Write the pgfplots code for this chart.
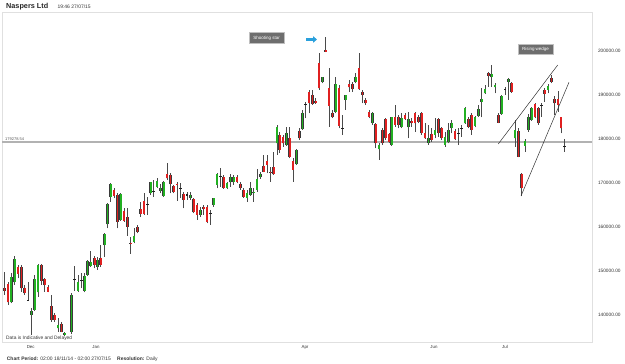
\documentclass[border=0pt]{standalone}
\usepackage{pgfplots}
\pgfplotsset{compat=1.18}
\usepackage{pgfplotstable}
\usepackage{fontspec}
\setmainfont{Liberation Sans}
\usetikzlibrary{arrows.meta}
\definecolor{cgreen}{HTML}{22B022}
\definecolor{cred}{HTML}{E02020}
\definecolor{cblack}{HTML}{202020}
\definecolor{wick}{HTML}{4A4A4A}
\definecolor{edge}{HTML}{3A3A3A}
\definecolor{framec}{HTML}{E0E0E0}
\definecolor{boxc}{HTML}{6E6E6E}
\definecolor{arrowc}{HTML}{2AA0DC}
\definecolor{labelc}{HTML}{333333}

\pgfplotstableread{
x o h l c t
4.7 146065 149697 144544 145452 2
8 147041 147563 142274 142887 2
11.3 142887 149470 142660 148698 1
14.7 147427 153465 146814 152716 1
18 150900 151354 148335 149379 2
21.3 150900 151354 145293 146065 2
24.7 146065 146814 144544 144930 2
28 143510 147427 143250 143310 3
31.3 140004 141525 135464 140912 1
34.7 141139 149084 140912 148176 1
38 145157 151513 144158 151354 1
41.3 151354 151513 146814 147722 2
44.7 148176 148335 145293 146814 2
48 146428 146814 145157 145293 2
51.3 142047 144544 138483 138869 2
54.7 140004 140390 138483 138869 2
58 136985 139255 136213 137734 1
61.3 137893 138483 136077 136213 2
64.7 135464 136213 135305 135850 1
71.3 136213 144930 135623 144544 1
74.7 147920 151127 145452 148110 3
78 145452 149084 145293 147563 1
81.3 147700 149470 146065 147880 3
84.7 145452 149470 145157 148925 1
87.3 149084 152489 148925 152262 1
90.7 151195 154532 150968 151967 1
94.7 153011 153465 150605 151354 2
97.3 150968 153238 150219 152489 1
100.7 152875 155894 150968 151354 2
104.7 155894 158550 153238 158323 1
107.3 160593 165360 159685 165133 1
110.7 166858 169900 165723 169741 1
114 168379 168765 166495 167017 2
117.3 167244 167630 159685 161183 2
120.7 161569 167630 161410 167471 1
124 163612 164225 161183 161410 2
127.3 162318 164225 157937 160048 2
130.7 156416 157642 153851 156121 2
134 156643 159685 156280 157937 1
137.3 159912 160434 158550 158913 2
140.7 163998 165723 162318 162931 2
144 165950 167766 162704 162931 2
147.3 165250 166858 162704 165150 3
150.7 167630 170263 167244 170127 1
153.7 168250 170649 166858 168050 3
157 169128 171035 168765 170422 1
160.3 168152 169673 167630 168901 1
163.7 167085 170422 166858 170127 1
167 171943 174440 170649 171035 2
170.3 171784 172170 167630 169673 2
173.7 169287 169514 167630 167857 2
177 169809 170127 165882 169514 2
180.3 168860 169900 166495 168670 3
183.7 167403 167993 164225 166109 2
187 167403 167993 166109 167085 3
190.3 166631 167993 166109 167244 1
193.7 166336 166495 163090 163317 2
197 164974 165360 161569 162704 2
200.3 162704 164588 162318 163839 1
203.7 164406 164974 162704 164066 2
207 164588 164974 160820 161183 2
210.3 163090 163839 160434 162863 3
213.7 164974 166631 164588 166495 1
217 169514 172170 168765 171943 1
220.3 171500 173305 169128 171300 3
223.7 171398 171784 168606 168901 2
227 168901 170263 168606 169900 1
230.3 170127 171943 169128 171398 1
233.7 170127 171784 169514 171398 1
237 171398 171784 169900 170263 2
240.3 169673 170127 168379 168901 2
243.7 168379 168765 166631 166858 2
247 166631 168379 165723 167630 1
250.3 167244 170263 167085 168765 1
253.7 167630 168765 165723 167993 1
257 168379 173146 167993 170876 1
260.3 171398 172533 170876 171943 1
263.7 173827 176324 172397 172533 2
267 174962 176324 172170 174054 2
270.3 172465 173668 170263 172238 2
273.7 173668 177073 171784 171943 2
276.8 178980 183134 176324 182748 1
279.7 180864 181613 176710 177459 2
283 180478 180864 178208 178980 2
286.3 178594 182748 178435 181250 1
289.7 180115 182748 175575 175938 2
293 174962 175575 170263 172919 2
296.3 174213 177686 174054 177459 1
299.5 181772 182385 179729 180115 2
302.3 182158 186539 181999 185926 1
305.7 188000 188423 184655 187800 3
309 190693 191079 185790 188060 2
312.3 189944 191079 187674 187901 2
315.7 188650 189195 187901 188060 2
319 197140 199546 191079 191465 2
322.3 192963 194098 192600 193962 1
325.7 200159 203178 199650 199705 2
329 191465 196005 182748 187447 2
332.3 185926 186539 184655 184882 2
335.7 186153 194098 185790 192441 1
339 191465 192214 182385 182907 2
342.3 182480 185404 180864 182290 3
345.7 188809 190000 186539 189944 1
349 192441 193349 190693 191692 2
352.3 192441 192963 190693 191238 2
355.7 192963 194870 192600 194098 1
359 196005 199410 191079 191238 2
362.3 190693 191079 188060 189944 2
365.7 188809 189195 187674 188060 2
369 186153 186539 184655 185018 2
372.3 183520 186153 183134 185926 1
375.7 183361 183520 177845 178980 2
379 177618 178980 175189 178594 1
382.3 181999 182385 178594 178980 2
385.7 184428 184655 179729 180115 2
389 181091 181250 178980 179343 2
391.7 178594 185018 178367 184882 1
395 184882 187674 182748 183134 2
398.3 184882 185404 182385 183134 2
401.7 182612 185790 182385 184655 1
405 185404 185790 184269 184428 2
408.3 182612 186153 180115 184428 1
411.7 184110 184655 182748 183520 2
415 185926 186153 181613 183520 2
418.3 184882 185404 183520 183883 2
421.7 185790 186153 180864 181250 2
425 181250 183520 180050 180115 2
428.3 179116 183134 178594 180115 1
431.7 181091 182385 179343 179729 2
435 180864 184655 180115 181999 1
438.3 184428 184655 180478 181250 2
441.7 182385 182748 179729 180115 2
445 178594 181613 178208 180478 1
448.3 179343 183520 178980 181999 1
451.7 182385 184269 181250 183656 1
455 181840 182158 179729 179888 2
458.3 181350 182385 178594 181150 3
461.7 182480 183134 180478 182290 3
465 183520 187288 183361 186925 1
468.3 184428 184882 182385 182748 2
471.7 185404 185790 180864 181999 2
475 182907 185177 182612 184882 1
478.3 185177 187674 185018 186698 1
481.7 188423 191465 184882 188968 1
485 190330 192214 190171 191238 1
488.3 194870 195233 191828 194257 2
491.7 193962 196754 191828 194711 1
495 191692 192736 190330 192214 1
498.3 185404 185790 183520 183656 2
501.7 185631 189944 185404 189717 1
505 191330 191828 189944 191140 3
508.3 192963 193735 188809 193508 1
511.7 192736 192963 190466 190693 2
515 180115 184269 178208 181999 1
518.3 181840 182385 175802 175938 2
521.7 172011 172170 167017 168765 2
525 178367 179888 177073 179570 1
528.3 181999 185631 181613 185018 1
531.7 184269 187288 184110 186925 1
535 187901 188060 184655 184882 2
538.3 186925 187288 183134 183520 2
541.7 187770 188060 185018 187580 3
544.7 191079 191465 188423 190171 2
548 191079 192441 190330 191987 1
551.3 193735 194484 192600 192963 2
554.6 188968 189717 185404 188060 2
557.9 188968 190920 186153 187674 2
561.2 184882 185018 181250 182385 2
564.5 178300 179888 177073 178110 3
}\candles

\pgfplotsset{
  body/.style n args={3}{draw=none, mark=none, forget plot,
    restrict expr to domain={\thisrow{t}}{#1:#1},
    error bars/.cd, y dir=plus, y explicit, error mark=none,
    error bar style={draw=#2, line width=#3}},
}

\begin{document}
\begin{tikzpicture}
\useasboundingbox (0,0) rectangle (625bp,364bp);
\begin{axis}[
  at={(2bp,22bp)}, anchor=south west,
  scale only axis, width=590bp, height=330bp,
  xmin=2, xmax=592, ymin=133875, ymax=208785,
  axis line style={draw=framec, line width=0.7bp},
  xtick={30.7,96,305,434,505}, xticklabels={Dec,Jan,Apr,Jun,Jul},
  ytick={140000,150000,160000,170000,180000,190000,200000},
  yticklabel pos=right,
  scaled y ticks=false,
  major tick length=0pt,
  /pgf/number format/assume math mode=true,
  yticklabel style={/pgf/number format/fixed, /pgf/number format/fixed zerofill,
    /pgf/number format/precision=2, /pgf/number format/1000 sep={},
    font=\fontsize{4.8}{5}\selectfont, text=labelc, xshift=2.5bp},
  xticklabel style={font=\fontsize{4.4}{5}\selectfont, text=labelc},
]
% reference level line
\addplot[color=black!30, line width=1.3bp, forget plot] coordinates {(2,179278.54) (592,179278.54)};
% wicks
\addplot[draw=none, mark=none, forget plot,
  error bars/.cd, y dir=plus, y explicit, error mark=none,
  error bar style={draw=wick, line width=0.6bp}]
  table[x=x, y=l, y error expr=\thisrow{h}-\thisrow{l}] {\candles};
% bodies: outline then fill
\addplot[body={1}{edge}{2.5bp}] table[x=x, y expr={min(\thisrow{o},\thisrow{c})}, y error expr={abs(\thisrow{c}-\thisrow{o})}] {\candles};
\addplot[body={1}{cgreen}{1.6bp}] table[x=x, y expr={min(\thisrow{o},\thisrow{c})}, y error expr={abs(\thisrow{c}-\thisrow{o})}] {\candles};
\addplot[body={2}{edge}{2.5bp}] table[x=x, y expr={min(\thisrow{o},\thisrow{c})}, y error expr={abs(\thisrow{c}-\thisrow{o})}] {\candles};
\addplot[body={2}{cred}{1.6bp}] table[x=x, y expr={min(\thisrow{o},\thisrow{c})}, y error expr={abs(\thisrow{c}-\thisrow{o})}] {\candles};
\addplot[body={3}{cblack}{2.5bp}] table[x=x, y expr={min(\thisrow{o},\thisrow{c})}, y error expr={abs(\thisrow{c}-\thisrow{o})}] {\candles};
% rising wedge lines
\addplot[color=black!80, line width=0.5bp, forget plot] coordinates {(498.3,178821) (557.7,196754)};
\addplot[color=black!80, line width=0.5bp, forget plot] coordinates {(521,167017) (569,192827)};
% annotations
\node[anchor=south west, inner sep=0pt, yshift=1bp, font=\fontsize{4}{4.5}\selectfont, text=black!65] at (axis cs:5,179278.54) {179278.54};
\node[fill=boxc, draw=black!25, line width=0.4bp, text=white, inner sep=0pt, minimum width=34.7bp, minimum height=10.6bp, font=\fontsize{4.5}{5}\selectfont] at (axis cs:266.7,202883) {Shooting star};
\node[fill=boxc, draw=black!25, line width=0.4bp, text=white, inner sep=0pt, minimum width=35bp, minimum height=10bp, font=\fontsize{4.5}{5}\selectfont] at (axis cs:535.5,200227) {Rising wedge};
\draw[arrowc, line width=2.6bp, -{Triangle[length=4bp, width=6.5bp]}] (axis cs:306,202543) -- (axis cs:317,202543);
\end{axis}
\node[anchor=west, inner sep=0pt, text=black!85] at (6bp,357bp) {\fontsize{7.3}{8}\selectfont\bfseries Naspers Ltd};
\node[anchor=west, inner sep=0pt, text=labelc] at (57.3bp,356.8bp) {\fontsize{5}{6}\selectfont 19:46 27/07/15};
\node[anchor=west, inner sep=0pt, text=labelc] at (6bp,26bp) {\fontsize{4.9}{5.5}\selectfont Data is Indicative and Delayed};
\node[anchor=west, inner sep=0pt, text=labelc] at (6.7bp,5bp) {\fontsize{5}{6}\selectfont\textbf{Chart Period:} 02:00 18/11/14 - 02:00 27/07/15\hspace{5bp} \textbf{Resolution:} Daily};
\end{tikzpicture}
\end{document}
